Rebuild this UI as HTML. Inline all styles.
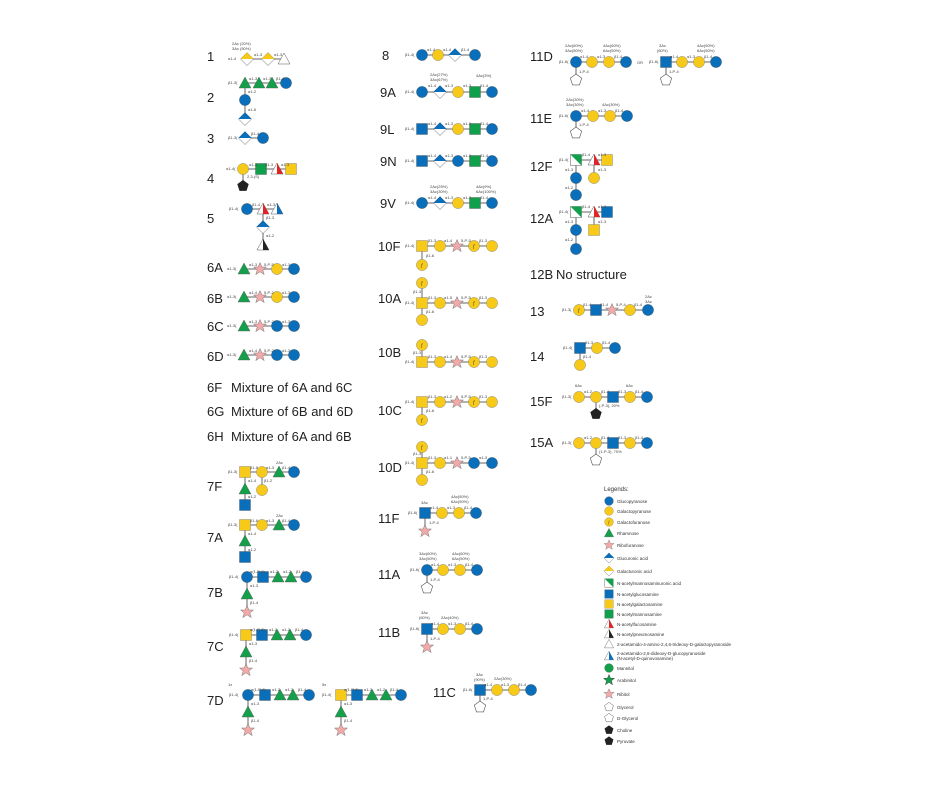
<!DOCTYPE html>
<html><head><meta charset="utf-8"><style>
html,body{margin:0;padding:0;background:#fff}
svg{display:block}
.L{font-family:"Liberation Sans",sans-serif;font-size:13px;fill:#222}
.s{font-family:"Liberation Sans",sans-serif;font-size:4px;fill:#444}
.g{font-family:"Liberation Sans",sans-serif;font-size:4.5px;fill:#333}
.ln{stroke:#999;stroke-width:1.5;fill:none}
</style></head><body>
<svg width="940" height="788" viewBox="0 0 940 788" xmlns="http://www.w3.org/2000/svg">
<defs>
<g id="bc"><circle r="5.6" fill="#0a6fba" stroke="#555" stroke-width=".4"/></g>
<g id="yc"><circle r="5.6" fill="#f7c919" stroke="#777" stroke-width=".4"/></g>
<g id="gf"><circle r="5.6" fill="#f7c919" stroke="#777" stroke-width=".4"/><text x="-1" y="2" font-size="5" font-family="Liberation Serif" font-style="italic" fill="#333">f</text></g>
<g id="tr"><polygon points="0,-6 6,5 -6,5" fill="#14a04a" stroke="#555" stroke-width=".4"/></g>
<g id="bq"><rect x="-5.5" y="-5.5" width="11" height="11" fill="#0a6fba" stroke="#555" stroke-width=".4"/></g>
<g id="yq"><rect x="-5.5" y="-5.5" width="11" height="11" fill="#f7c919" stroke="#777" stroke-width=".4"/></g>
<g id="gq"><rect x="-5.5" y="-5.5" width="11" height="11" fill="#10a04c" stroke="#555" stroke-width=".4"/></g>
<g id="bd"><polygon points="-6.5,0 0,-6.5 6.5,0 0,6.5" fill="#fff" stroke="#555" stroke-width=".5"/><polygon points="-6.5,0 0,-6.5 6.5,0" fill="#0a6fba"/></g>
<g id="yd"><polygon points="-6.5,0 0,-6.5 6.5,0 0,6.5" fill="#fff" stroke="#555" stroke-width=".5"/><polygon points="-6.5,0 0,-6.5 6.5,0" fill="#f7c919"/></g>
<g id="st"><polygon points="0,-6.5 1.9,-2 6.5,-2 2.8,1 4.2,5.6 0,2.8 -4.2,5.6 -2.8,1 -6.5,-2 -1.9,-2" fill="#f4a9a9" stroke="#777" stroke-width=".5"/></g>
<g id="fu"><polygon points="0,-6 6,5 -6,5" fill="#fff" stroke="#555" stroke-width=".5"/><polygon points="0,-6 6,5 0,5" fill="#e52226"/></g>
<g id="bt"><polygon points="0,-6 6,5 -6,5" fill="#fff" stroke="#555" stroke-width=".5"/><polygon points="0,-6 6,5 0,5" fill="#0a6fba"/></g>
<g id="kt"><polygon points="0,-6 6,5 -6,5" fill="#fff" stroke="#555" stroke-width=".5"/><polygon points="0,-6 6,5 0,5" fill="#222"/></g>
<g id="wt"><polygon points="0,-6 6,5 -6,5" fill="#fff" stroke="#555" stroke-width=".5"/></g>
<g id="nm"><rect x="-5.5" y="-5.5" width="11" height="11" fill="#fff" stroke="#555" stroke-width=".5"/><polygon points="-5.5,-5.5 5.5,-5.5 5.5,5.5" fill="#10a04c"/></g>
<g id="pw"><polygon points="0,-6 5.7,-1.9 3.5,4.9 -3.5,4.9 -5.7,-1.9" fill="#fff" stroke="#555" stroke-width=".6"/></g>
<g id="pk"><polygon points="0,-6 5.7,-1.9 3.5,4.9 -3.5,4.9 -5.7,-1.9" fill="#222"/></g>
<g id="mn"><circle r="5.6" fill="#14a04a" stroke="#555" stroke-width=".4"/></g>
<g id="ar"><polygon points="0,-6.5 1.9,-2 6.5,-2 2.8,1 4.2,5.6 0,2.8 -4.2,5.6 -2.8,1 -6.5,-2 -1.9,-2" fill="#14a04a" stroke="#333" stroke-width=".5"/></g>
</defs>

<g class="L">
<text x="207" y="61">1</text><text x="207" y="102">2</text><text x="207" y="143">3</text><text x="207" y="183">4</text><text x="207" y="223">5</text>
<text x="207" y="272">6A</text><text x="207" y="303">6B</text><text x="207" y="331">6C</text><text x="207" y="361">6D</text>
<text x="207" y="392">6F</text><text x="231" y="392">Mixture of 6A and 6C</text>
<text x="207" y="416">6G</text><text x="231" y="416">Mixture of 6B and 6D</text>
<text x="207" y="441">6H</text><text x="231" y="441">Mixture of 6A and 6B</text>
<text x="207" y="491">7F</text><text x="207" y="542">7A</text><text x="207" y="597">7B</text><text x="207" y="651">7C</text><text x="207" y="705">7D</text>
<text x="382" y="60">8</text><text x="380" y="97">9A</text><text x="380" y="134">9L</text><text x="380" y="166">9N</text><text x="380" y="208">9V</text>
<text x="378" y="251">10F</text><text x="378" y="303">10A</text><text x="378" y="357">10B</text><text x="378" y="415">10C</text><text x="378" y="472">10D</text>
<text x="378" y="523">11F</text><text x="378" y="579">11A</text><text x="378" y="637">11B</text><text x="433" y="697">11C</text>
<text x="530" y="61">11D</text><text x="530" y="123">11E</text><text x="530" y="171">12F</text><text x="530" y="223">12A</text>
<text x="530" y="279">12B</text><text x="556" y="279">No structure</text>
<text x="530" y="316">13</text><text x="530" y="361">14</text><text x="530" y="406">15F</text><text x="530" y="447">15A</text>
</g>

<g class="ln">
<path d="M247 59H284"/>
<path d="M245 83H286M245 83V119"/>
<path d="M245 138H263"/>
<path d="M243 169H291M243 169V186"/>
<path d="M247 209H277M263 209V245"/>
<path d="M244 269H294M244 297H294M244 326H294M244 355H294"/>
<path d="M245 472H294M245 472V505M262 472V490"/>
<path d="M245 525H294M245 525V557"/>
<path d="M247 577H306M247 577V612"/>
<path d="M246 635H306M246 635V670"/>
<path d="M248 695H309M248 695V730"/>
<path d="M341 695H401M341 695V730"/>
<path d="M422 55H475"/>
<path d="M422 92H492M422 129H492M422 161H492M422 203H492"/>
<path d="M422 246H492M422 246V265"/>
<path d="M422 303H492M422 283V320"/>
<path d="M422 362H492M422 345V362"/>
<path d="M422 402H492M422 402V420"/>
<path d="M422 463H492M422 447V480"/>
<path d="M425 513H476M425 513V531"/>
<path d="M427 570H477M427 570V588"/>
<path d="M427 629H477M427 629V647"/>
<path d="M480 690H531M480 690V707"/>
<path d="M576 62H626M576 62V80"/>
<path d="M666 62H716M666 62V80"/>
<path d="M576 116H627M576 116V133"/>
<path d="M576 160H607M576 160V195M594 160V178"/>
<path d="M576 212H607M576 212V249M594 212V230"/>
<path d="M579 310H648"/>
<path d="M580 348H615M580 348V365"/>
<path d="M579 397H647M596 397V414"/>
<path d="M579 443H647M596 443V460"/>
</g>

<use href="#yd" x="247" y="59"/><use href="#yd" x="268" y="59"/><use href="#wt" x="284" y="59"/>
<use href="#tr" x="245" y="83"/><use href="#tr" x="259" y="83"/><use href="#tr" x="272" y="83"/><use href="#bc" x="286" y="83"/><use href="#bc" x="245" y="100"/><use href="#bd" x="245" y="119"/>
<use href="#bd" x="245" y="138"/><use href="#bc" x="263" y="138"/>
<use href="#yc" x="243" y="169"/><use href="#gq" x="261" y="169"/><use href="#fu" x="277" y="169"/><use href="#yq" x="291" y="169"/><use href="#pk" x="243" y="186"/>
<use href="#bc" x="247" y="209"/><use href="#fu" x="263" y="209"/><use href="#bt" x="277" y="209"/><use href="#bd" x="263" y="227"/><use href="#kt" x="263" y="245"/>
<use href="#tr" x="244" y="269"/><use href="#st" x="260" y="269"/><use href="#yc" x="277" y="269"/><use href="#bc" x="294" y="269"/>
<use href="#tr" x="244" y="297"/><use href="#st" x="260" y="297"/><use href="#yc" x="277" y="297"/><use href="#bc" x="294" y="297"/>
<use href="#tr" x="244" y="326"/><use href="#st" x="260" y="326"/><use href="#bc" x="277" y="326"/><use href="#bc" x="294" y="326"/>
<use href="#tr" x="244" y="355"/><use href="#st" x="260" y="355"/><use href="#bc" x="277" y="355"/><use href="#bc" x="294" y="355"/>
<use href="#yq" x="245" y="472"/><use href="#yc" x="262" y="472"/><use href="#tr" x="279" y="472"/><use href="#bc" x="294" y="472"/><use href="#tr" x="245" y="489"/><use href="#bq" x="245" y="505"/><use href="#yc" x="262" y="490"/>
<use href="#yq" x="245" y="525"/><use href="#yc" x="262" y="525"/><use href="#tr" x="279" y="525"/><use href="#bc" x="294" y="525"/><use href="#tr" x="245" y="541"/><use href="#bq" x="245" y="557"/>
<use href="#bc" x="247" y="577"/><use href="#bq" x="263" y="577"/><use href="#tr" x="278" y="577"/><use href="#tr" x="291" y="577"/><use href="#bc" x="306" y="577"/><use href="#tr" x="247" y="594"/><use href="#st" x="247" y="612"/>
<use href="#yq" x="246" y="635"/><use href="#bq" x="262" y="635"/><use href="#tr" x="277" y="635"/><use href="#tr" x="290" y="635"/><use href="#bc" x="306" y="635"/><use href="#tr" x="246" y="652"/><use href="#st" x="246" y="670"/>
<use href="#bc" x="248" y="695"/><use href="#bq" x="265" y="695"/><use href="#tr" x="280" y="695"/><use href="#tr" x="293" y="695"/><use href="#bc" x="309" y="695"/><use href="#tr" x="248" y="712"/><use href="#st" x="248" y="730"/>
<use href="#yq" x="341" y="695"/><use href="#bq" x="357" y="695"/><use href="#tr" x="372" y="695"/><use href="#tr" x="386" y="695"/><use href="#bc" x="401" y="695"/><use href="#tr" x="341" y="712"/><use href="#st" x="341" y="730"/>

<use href="#bc" x="422" y="55"/><use href="#yc" x="438" y="55"/><use href="#bd" x="455" y="55"/><use href="#bc" x="475" y="55"/>
<use href="#bc" x="422" y="92"/><use href="#bd" x="440" y="92"/><use href="#yc" x="458" y="92"/><use href="#gq" x="475" y="92"/><use href="#bc" x="492" y="92"/>
<use href="#bq" x="422" y="129"/><use href="#bd" x="440" y="129"/><use href="#yc" x="458" y="129"/><use href="#gq" x="475" y="129"/><use href="#bc" x="492" y="129"/>
<use href="#bq" x="422" y="161"/><use href="#bd" x="440" y="161"/><use href="#bc" x="458" y="161"/><use href="#gq" x="475" y="161"/><use href="#bc" x="492" y="161"/>
<use href="#bc" x="422" y="203"/><use href="#bd" x="440" y="203"/><use href="#yc" x="458" y="203"/><use href="#gq" x="475" y="203"/><use href="#bc" x="492" y="203"/>
<use href="#yq" x="422" y="246"/><use href="#yc" x="440" y="246"/><use href="#st" x="457" y="246"/><use href="#gf" x="474" y="246"/><use href="#yc" x="492" y="246"/><use href="#gf" x="422" y="265"/>
<use href="#yq" x="422" y="303"/><use href="#yc" x="440" y="303"/><use href="#st" x="457" y="303"/><use href="#gf" x="474" y="303"/><use href="#yc" x="492" y="303"/><use href="#gf" x="422" y="283"/><use href="#yc" x="422" y="320"/>
<use href="#yq" x="422" y="362"/><use href="#yc" x="440" y="362"/><use href="#st" x="457" y="362"/><use href="#gf" x="474" y="362"/><use href="#yc" x="492" y="362"/><use href="#gf" x="422" y="345"/>
<use href="#yq" x="422" y="402"/><use href="#yc" x="440" y="402"/><use href="#st" x="457" y="402"/><use href="#gf" x="474" y="402"/><use href="#yc" x="492" y="402"/><use href="#gf" x="422" y="420"/>
<use href="#yq" x="422" y="463"/><use href="#yc" x="440" y="463"/><use href="#st" x="457" y="463"/><use href="#bc" x="474" y="463"/><use href="#bc" x="492" y="463"/><use href="#gf" x="422" y="447"/><use href="#yc" x="422" y="480"/>
<use href="#bq" x="425" y="513"/><use href="#yc" x="442" y="513"/><use href="#yc" x="459" y="513"/><use href="#bc" x="476" y="513"/><use href="#st" x="425" y="531"/>
<use href="#bc" x="427" y="570"/><use href="#yc" x="443" y="570"/><use href="#yc" x="460" y="570"/><use href="#bc" x="477" y="570"/><use href="#pw" x="427" y="588"/>
<use href="#bq" x="427" y="629"/><use href="#yc" x="443" y="629"/><use href="#yc" x="460" y="629"/><use href="#bc" x="477" y="629"/><use href="#st" x="427" y="647"/>
<use href="#bq" x="480" y="690"/><use href="#yc" x="497" y="690"/><use href="#yc" x="514" y="690"/><use href="#bc" x="531" y="690"/><use href="#pw" x="480" y="707"/>

<use href="#bc" x="576" y="62"/><use href="#yc" x="592" y="62"/><use href="#yc" x="609" y="62"/><use href="#bc" x="626" y="62"/><use href="#pw" x="576" y="80"/>
<use href="#bq" x="666" y="62"/><use href="#yc" x="682" y="62"/><use href="#yc" x="699" y="62"/><use href="#bc" x="716" y="62"/><use href="#pw" x="666" y="80"/>
<use href="#bc" x="576" y="116"/><use href="#yc" x="593" y="116"/><use href="#yc" x="610" y="116"/><use href="#bc" x="627" y="116"/><use href="#pw" x="576" y="133"/>
<use href="#nm" x="576" y="160"/><use href="#fu" x="594" y="160"/><use href="#yq" x="607" y="160"/><use href="#bc" x="576" y="178"/><use href="#bc" x="576" y="195"/><use href="#yc" x="594" y="178"/>
<use href="#nm" x="576" y="212"/><use href="#fu" x="594" y="212"/><use href="#bq" x="607" y="212"/><use href="#bc" x="576" y="230"/><use href="#bc" x="576" y="249"/><use href="#yq" x="594" y="230"/>
<use href="#gf" x="579" y="310"/><use href="#bq" x="596" y="310"/><use href="#st" x="612" y="310"/><use href="#yc" x="630" y="310"/><use href="#bc" x="648" y="310"/>
<use href="#bq" x="580" y="348"/><use href="#yc" x="597" y="348"/><use href="#bc" x="615" y="348"/><use href="#yc" x="580" y="365"/>
<use href="#yc" x="579" y="397"/><use href="#yc" x="596" y="397"/><use href="#bq" x="613" y="397"/><use href="#yc" x="630" y="397"/><use href="#bc" x="647" y="397"/><use href="#pk" x="596" y="414"/>
<use href="#yc" x="579" y="443"/><use href="#yc" x="596" y="443"/><use href="#bq" x="613" y="443"/><use href="#yc" x="630" y="443"/><use href="#bc" x="647" y="443"/><use href="#pw" x="596" y="460"/>

<g class="s">
<text x="232" y="45">2Ac (20%)</text><text x="232" y="50">3Ac (50%)</text><text x="228" y="60">α1-4</text><text x="254" y="56">α1-3</text><text x="274" y="56">α1-3</text>
<text x="228" y="84">β1-3(</text><text x="249" y="80">α1-3</text><text x="263" y="80">α1-3</text><text x="276" y="80">β1-4</text><text x="248" y="93">α1-2</text><text x="248" y="111">α1-6</text>
<text x="228" y="139">β1-3(</text><text x="251" y="135">β1-4</text>
<text x="226" y="170">α1-4(</text><text x="249" y="166">α1-3</text><text x="265" y="166">β1-3</text><text x="281" y="166">α1-3</text><text x="247" y="178">2,3-(S)</text>
<text x="229" y="210">β1-4(</text><text x="252" y="206">β1-4</text><text x="267" y="206">α1-3</text><text x="266" y="219">β1-3</text><text x="266" y="237">α1-2</text>
<text x="227" y="270">α1-3(</text><text x="249" y="266">α1-3</text><text x="264" y="266">5-P-5</text><text x="282" y="266">α1-3</text>
<text x="227" y="298">α1-3(</text><text x="249" y="294">α1-4</text><text x="264" y="294">5-P-2</text><text x="282" y="294">α1-3</text>
<text x="227" y="327">α1-3(</text><text x="249" y="323">α1-3</text><text x="264" y="323">5-P-2</text><text x="282" y="323">α1-3</text>
<text x="227" y="356">α1-3(</text><text x="249" y="352">α1-4</text><text x="264" y="352">5-P-2</text><text x="282" y="352">α1-3</text>
<text x="228" y="473">β1-3(</text><text x="250" y="469">β1-6</text><text x="266" y="469">α1-3</text><text x="276" y="464">2Ac</text><text x="282" y="469">β1-4</text><text x="248" y="482">α1-4</text><text x="264" y="482">β1-2</text><text x="248" y="498">α1-2</text>
<text x="228" y="526">β1-3(</text><text x="250" y="522">β1-6</text><text x="266" y="522">α1-3</text><text x="276" y="517">2Ac</text><text x="282" y="522">β1-4</text><text x="248" y="535">α1-4</text><text x="248" y="551">α1-2</text>
<text x="229" y="578">β1-4(</text><text x="250" y="573">α(1-P-6)</text><text x="270" y="573">α1-2</text><text x="283" y="573">α1-2</text><text x="296" y="573">β1-4</text><text x="250" y="587">α1-3</text><text x="250" y="604">β1-4</text>
<text x="229" y="636">β1-4(</text><text x="250" y="631">α(1-P-6)</text><text x="269" y="631">α1-2</text><text x="282" y="631">α1-2</text><text x="295" y="631">β1-4</text><text x="249" y="645">α1-3</text><text x="249" y="662">β1-4</text>
<text x="229" y="696">β1-4(</text><text x="228" y="686">1x</text><text x="251" y="691">α(1-P-6)</text><text x="272" y="691">α1-2</text><text x="285" y="691">α1-2</text><text x="298" y="691">β1-4</text><text x="251" y="705">α1-3</text><text x="251" y="722">β1-4</text>
<text x="322" y="696">β1-4(</text><text x="322" y="686">5x</text><text x="344" y="691">α(1-P-6)</text><text x="364" y="691">α1-2</text><text x="377" y="691">α1-2</text><text x="390" y="691">β1-4</text><text x="344" y="705">α1-3</text><text x="344" y="722">β1-4</text>
<text x="405" y="56">β1-4(</text><text x="427" y="51">α1-4</text><text x="443" y="51">α1-4</text><text x="461" y="51">β1-4</text>
<text x="405" y="93">β1-4(</text><text x="430" y="76">2Ac(27%)</text><text x="430" y="81">3Ac(67%)</text><text x="428" y="87">α1-4</text><text x="445" y="87">α1-3</text><text x="463" y="87">α1-3</text><text x="476" y="77">4Ac(3%)</text><text x="480" y="87">β1-4</text>
<text x="405" y="130">β1-4(</text><text x="428" y="125">α1-4</text><text x="445" y="125">α1-3</text><text x="463" y="125">α1-3</text><text x="480" y="125">β1-4</text>
<text x="405" y="162">β1-4(</text><text x="428" y="157">α1-4</text><text x="445" y="157">α1-3</text><text x="463" y="157">α1-3</text><text x="480" y="157">β1-4</text>
<text x="405" y="204">β1-4(</text><text x="430" y="188">2Ac(25%)</text><text x="430" y="193">3Ac(30%)</text><text x="428" y="199">α1-4</text><text x="445" y="199">α1-3</text><text x="463" y="199">α1-3</text><text x="476" y="188">4Ac(9%)</text><text x="476" y="193">6Ac(100%)</text><text x="480" y="199">β1-4</text>
<text x="405" y="247">β1-4(</text><text x="428" y="242">β1-3</text><text x="444" y="242">α1-4</text><text x="461" y="242">5-P-5</text><text x="479" y="242">β1-3</text><text x="426" y="257">β1-6</text>
<text x="405" y="304">β1-4(</text><text x="428" y="299">β1-3</text><text x="444" y="299">α1-5</text><text x="461" y="299">5-P-5</text><text x="479" y="299">β1-3</text><text x="413" y="293">β1-3</text><text x="426" y="313">β1-6</text>
<text x="405" y="363">β1-4(</text><text x="428" y="358">β1-3</text><text x="444" y="358">α1-4</text><text x="461" y="358">5-P-5</text><text x="479" y="358">β1-3</text><text x="413" y="354">β1-3</text>
<text x="405" y="403">β1-4(</text><text x="428" y="398">β1-3</text><text x="444" y="398">α1-2</text><text x="461" y="398">5-P-5</text><text x="479" y="398">β1-3</text><text x="426" y="412">β1-6</text>
<text x="405" y="464">β1-4(</text><text x="428" y="459">β1-3</text><text x="444" y="459">α1-1</text><text x="461" y="459">5-P-5</text><text x="479" y="459">α1-3</text><text x="413" y="455">β1-3</text><text x="426" y="473">β1-6</text>
<text x="408" y="514">β1-6(</text><text x="421" y="504">3Ac</text><text x="430" y="509">α1-4</text><text x="447" y="509">α1-3</text><text x="451" y="498">4Ac(50%)</text><text x="451" y="503">6Ac(50%)</text><text x="464" y="509">β1-4</text><text x="429" y="524">1-P-4</text>
<text x="410" y="571">β1-6(</text><text x="419" y="555">3Ac(60%)</text><text x="419" y="560">3Ac(50%)</text><text x="431" y="566">α1-4</text><text x="448" y="566">α1-3</text><text x="452" y="555">4Ac(60%)</text><text x="452" y="560">6Ac(50%)</text><text x="465" y="566">β1-4</text><text x="430" y="581">1-P-4</text>
<text x="410" y="630">β1-6(</text><text x="421" y="614">3Ac</text><text x="419" y="619">(60%)</text><text x="431" y="625">α1-4</text><text x="441" y="619">2Ac(40%)</text><text x="448" y="625">α1-3</text><text x="465" y="625">β1-4</text><text x="430" y="640">1-P-4</text>
<text x="463" y="691">β1-6(</text><text x="476" y="676">3Ac</text><text x="474" y="681">(90%)</text><text x="484" y="686">α1-4</text><text x="494" y="680">2Ac(30%)</text><text x="501" y="686">α1-3</text><text x="518" y="686">β1-4</text><text x="483" y="700">1-P-4</text>
<text x="559" y="63">β1-6(</text><text x="565" y="47">2Ac(60%)</text><text x="565" y="52">3Ac(50%)</text><text x="580" y="58">α1-4</text><text x="597" y="58">α1-3</text><text x="603" y="47">4Ac(60%)</text><text x="603" y="52">6Ac(50%)</text><text x="614" y="58">β1-4</text><text x="579" y="73">1-P-4</text>
<text x="637" y="64">OR</text><text x="649" y="63">β1-6(</text><text x="659" y="47">3Ac</text><text x="657" y="52">(60%)</text><text x="670" y="58">α1-4</text><text x="687" y="58">α1-3</text><text x="697" y="47">4Ac(50%)</text><text x="697" y="52">6Ac(50%)</text><text x="704" y="58">β1-4</text><text x="669" y="73">1-P-4</text>
<text x="559" y="117">β1-6(</text><text x="566" y="101">2Ac(30%)</text><text x="566" y="106">3Ac(30%)</text><text x="581" y="112">α1-4</text><text x="598" y="112">α1-3</text><text x="602" y="106">4Ac(30%)</text><text x="615" y="112">β1-4</text><text x="579" y="126">1-P-4</text>
<text x="559" y="161">β1-4(</text><text x="582" y="156">β1-4</text><text x="598" y="156">α1-3</text><text x="565" y="171">α1-3</text><text x="598" y="171">α1-3</text><text x="565" y="189">α1-2</text>
<text x="559" y="213">β1-4(</text><text x="582" y="208">β1-4</text><text x="598" y="208">α1-3</text><text x="565" y="223">α1-3</text><text x="598" y="223">α1-3</text><text x="565" y="241">α1-2</text>
<text x="562" y="311">β1-3(</text><text x="583" y="306">β1-4</text><text x="600" y="306">β1-4</text><text x="616" y="306">5-P-4</text><text x="634" y="306">β1-4</text><text x="645" y="298">2Ac</text><text x="645" y="303">3Ac</text>
<text x="563" y="349">β1-4(</text><text x="585" y="344">β1-3</text><text x="602" y="344">β1-4</text><text x="583" y="358">β1-4</text>
<text x="562" y="398">β1-3(</text><text x="575" y="387">6Ac</text><text x="584" y="393">α1-2</text><text x="601" y="393">β1-4</text><text x="618" y="393">β1-3</text><text x="626" y="387">6Ac</text><text x="635" y="393">β1-4</text><text x="599" y="407">(-P-3), 20%</text>
<text x="562" y="444">β1-3(</text><text x="584" y="439">α1-2</text><text x="601" y="439">β1-4</text><text x="618" y="439">β1-3</text><text x="635" y="439">β1-4</text><text x="599" y="453">(1-P-3), 70%</text>
</g>

<text x="604" y="491" font-family="Liberation Sans" font-size="6" fill="#333">Legends:</text>
<g>
<use href="#bc" transform="translate(609,501) scale(.78)"/>
<use href="#yc" transform="translate(609,511) scale(.78)"/>
<use href="#gf" transform="translate(609,522) scale(.78)"/>
<use href="#tr" transform="translate(609,533) scale(.78)"/>
<use href="#st" transform="translate(609,545) scale(.78)"/>
<use href="#bd" transform="translate(609,558) scale(.78)"/>
<use href="#yd" transform="translate(609,571) scale(.78)"/>
<use href="#nm" transform="translate(609,583) scale(.78)"/>
<use href="#bq" transform="translate(609,594) scale(.78)"/>
<use href="#yq" transform="translate(609,604) scale(.78)"/>
<use href="#gq" transform="translate(609,614) scale(.78)"/>
<use href="#fu" transform="translate(609,624) scale(.78)"/>
<use href="#kt" transform="translate(609,634) scale(.78)"/>
<use href="#wt" transform="translate(609,644) scale(.78)"/>
<use href="#bt" transform="translate(609,656) scale(.78)"/>
<use href="#mn" transform="translate(609,668) scale(.78)"/>
<use href="#ar" transform="translate(609,680) scale(.85)"/>
<use href="#st" transform="translate(609,694) scale(.8)"/>
<use href="#pw" transform="translate(609,707) scale(.78)"/>
<use href="#pw" transform="translate(609,718) scale(.78)"/>
<use href="#pk" transform="translate(609,730) scale(.78)"/>
<use href="#pk" transform="translate(609,741) scale(.78)"/>
</g>
<g class="g">
<text x="617" y="503">Glucopyranose</text><text x="617" y="513">Galactopyranose</text><text x="617" y="524">Galactofuranose</text><text x="617" y="535">Rhamnose</text><text x="617" y="547">Ribofuranose</text>
<text x="617" y="560">Glucuronic acid</text><text x="617" y="573">Galacturonic acid</text><text x="617" y="585">N-acetylmannosaminuronic acid</text><text x="617" y="596">N-acetylglucosamine</text><text x="617" y="606">N-acetylgalactosamine</text>
<text x="617" y="616">N-acetylmannosamine</text><text x="617" y="626">N-acetylfucosamine</text><text x="617" y="636">N-acetylpneumosamine</text><text x="617" y="646">2-acetamido-4-amino-2,4,6-trideoxy-D-galactopyranoside</text>
<text x="617" y="655">2-acetamido-2,6-dideoxy-D-glucopyranoside</text><text x="617" y="660">(N-acetyl-D-quinovosamine)</text>
<text x="617" y="670">Mannitol</text><text x="617" y="682">Arabinitol</text><text x="617" y="696">Ribitol</text><text x="617" y="709">Glycerol</text><text x="617" y="720">D-Glycerol</text><text x="617" y="732">Choline</text><text x="617" y="743">Pyruvate</text>
</g>
</svg>
</body></html>
